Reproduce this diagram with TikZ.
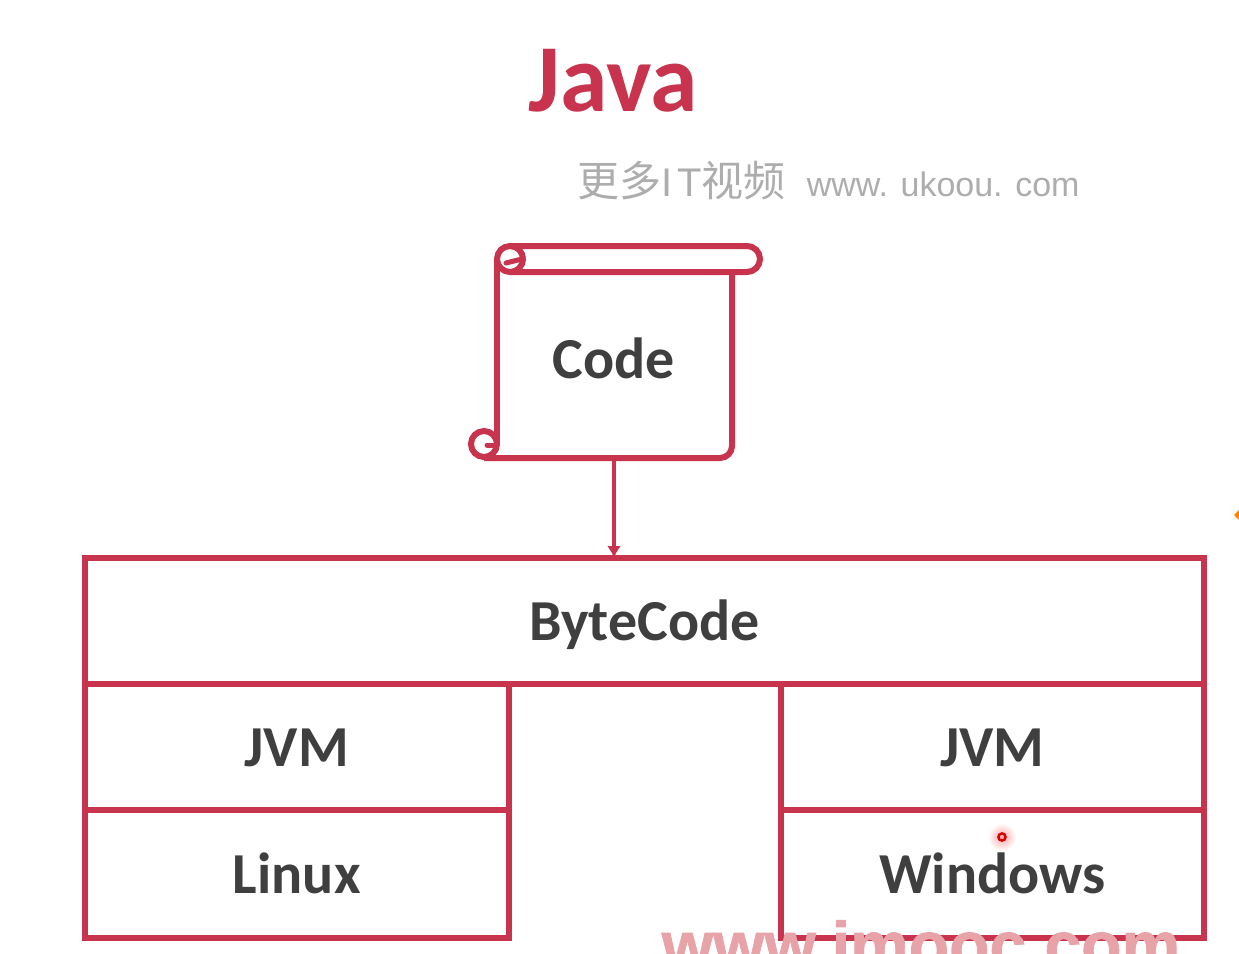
\documentclass[tikz,border=0pt]{standalone}
\usepackage{fontspec}
\setmainfont{Carlito}
\newfontfamily\cjk{Noto Sans CJK SC}
\newfontfamily\wmfont{Liberation Sans}
\newfontfamily\itfont[LetterSpace=12]{Liberation Sans}
\newfontfamily\sitefont[FakeBold=1.2]{Liberation Sans Bold}
\usetikzlibrary{positioning,arrows.meta}
\definecolor{javared}{HTML}{C8334D}
\definecolor{labelgray}{HTML}{3F3F3F}
\definecolor{sitepink}{HTML}{E8A3A8}
\begin{document}
\begin{tikzpicture}[x=0.5pt,y=-0.5pt,>={Latex[length=6pt,width=7pt]},
  lbl/.style={text=labelgray,font=\fontsize{29}{34}\selectfont\bfseries,text height=20pt,text depth=1pt},
  box/.style={lbl,draw=javared,line width=3pt,outer sep=0pt,inner sep=0pt,align=center},
  wide/.style={box,minimum width=559.5pt,minimum height=63pt},
  half/.style={box,minimum width=211.75pt,minimum height=63pt},
  scroll/.style={draw=javared,line width=3pt,line join=round},
  curl/.style={draw=javared,line width=2.5pt,line cap=round}]
  \clip (0,0) rectangle (1239,954);
  \node[text=javared,font=\fontsize{48}{52}\selectfont\bfseries] (title) at (613,81) {Java};
  \node[text=black!32,font=\fontsize{20}{24}\selectfont,inner sep=0pt] (mark) at (828.5,181) {{\cjk\fontsize{21}{24}\selectfont 更多}{\itfont IT}{\cjk\fontsize{21}{24}\selectfont 视频}\hspace{10.5pt}{\wmfont\fontsize{17}{24}\selectfont www. ukoou. com}};
  % scroll
  \node[box,draw=none,minimum width=117pt,minimum height=94pt] (code) at (614,364) {};
  \node[lbl,inner sep=0pt] (codetext) at (614,359) {Code};
  \draw[scroll] (510,246) -- (747,246) arc[start angle=90,end angle=-90,radius=6.5pt] -- (510,272);
  \draw[scroll] (510,259) circle[radius=6.5pt];
  \draw[curl] (506,263) -- (522,259);
  \draw[scroll] (497,259) -- (497,444);
  \draw[scroll] (484,444) circle[radius=6.5pt];
  \draw[curl] (496,445) -- (487,445);
  \draw[scroll,rounded corners=6pt] (732,272) -- (732,458) -- (484,458);
  % boxes
  \node[wide] (bytecode) at (644.5,621) {ByteCode};
  \node[half,anchor=north west] (jvml) at (bytecode.south west) {JVM};
  \node[half,below=0pt of jvml,minimum height=64pt] (linux) {Linux};
  \node[half,anchor=north east] (jvmr) at (bytecode.south east) {JVM};
  \node[half,below=0pt of jvmr,minimum height=64pt] (windows) {Windows};
  \draw[->,draw=javared,fill=javared,line width=1.7pt] (code.south) -- (code.south|-bytecode.north);
  % watermark and pointer
  \node[text=sitepink,font=\sitefont\fontsize{33}{38}\selectfont,inner sep=0pt,anchor=base] (site) at (921,968) {www.imooc.com};
  \shade[inner color=red!35,outer color=white] (1002,837) circle[radius=7pt];
  \draw[red!85!black,line width=1.2pt] (1002,837) circle[radius=1.8pt];
  \fill[orange] (1234,515) -- (1239,510) -- (1239,520) -- cycle;
\end{tikzpicture}
\end{document}
